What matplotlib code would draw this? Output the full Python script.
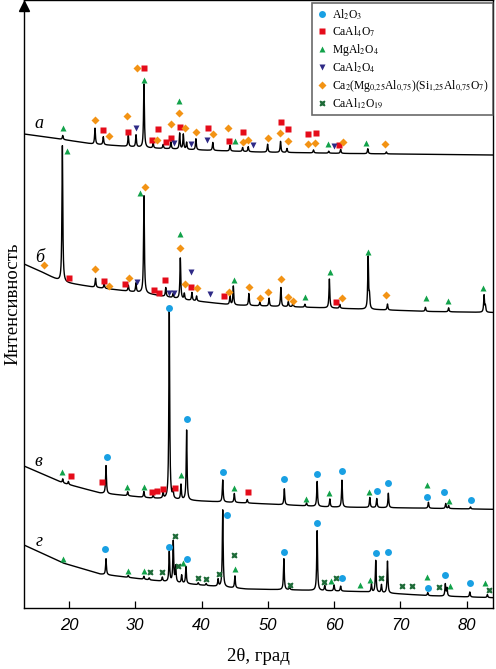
import numpy as np
import matplotlib
matplotlib.use('Agg')
import matplotlib.pyplot as plt
from matplotlib.lines import Line2D

plt.rcParams['mathtext.fontset'] = 'stix'
plt.rcParams['font.family'] = ['Liberation Serif', 'DejaVu Serif']

# ---- данные (2θ, град / интенсивность, усл. ед.) ----
# фон каждой дифрактограммы
bg_a_t = [13.2, 18.6, 23.6, 32.2, 39.8, 48.5, 62.4, 83.9]
bg_a_i = [474, 469, 464, 460, 458, 456, 454.5, 453]
bg_b_t = [13.2, 15.6, 18.9, 23.6, 31.2, 37.8, 44.7, 59.4, 74.5, 83.9]
bg_b_i = [344, 337, 326, 321, 315, 308, 303, 300, 296.5, 295.5]
bg_v_t = [13.2, 19.1, 24.7, 32.2, 39.8, 46.8, 59.4, 71.9, 83.9]
bg_v_i = [142, 125, 115, 110, 107, 105, 101, 100, 98.7]
bg_g_t = [13.2, 19.1, 24.7, 32.2, 39.8, 46.8, 54.3, 64.4, 74.5, 83.9]
bg_g_i = [63, 45, 34, 28, 23, 19, 18, 16.3, 12.3, 10.3]

# пики: положение и высота над фоном
pk_a_t = [19.05, 23.92, 25.17, 28.94, 30.11, 31.31, 32.7, 34.2, 35.38, 36.7, 37.25, 37.75, 39.15,
          41.7, 44.3, 46.2, 47.05, 49.97, 51.93, 52.9, 56.9, 59.2, 61.0, 65.1, 67.9]
pk_a_h = [4, 16, 8, 11, 12, 64, 5, 4, 7, 16, 15, 7, 11, 8, 6, 4, 5, 8, 11, 4, 3, 2, 4, 5, 2]
pk_b_t = [18.99, 24.0, 25.3, 28.95, 30.1, 31.31, 34.6, 35.7, 36.8, 37.4, 38.55, 39.25, 44.3, 44.8,
          47.15, 48.8, 50.2, 51.98, 53.1, 53.8, 55.6, 59.3, 60.87, 65.15, 65.35, 68.07, 73.8, 77.3,
          82.65, 82.85]
pk_b_h = [137, 9, 5, 6, 9, 98, 9, 4, 41, 6, 8, 5, 9, 19, 12, 4, 8, 19, 5, 4, 3, 29, 4, 52, 12, 6,
          4, 4, 17, 6]
pk_v_t = [19.05, 19.9, 25.58, 28.85, 31.3, 32.7, 34.2, 35.13, 35.7, 36.9, 37.75, 43.2, 44.95, 46.9,
          52.5, 55.85, 57.45, 59.37, 61.2, 65.4, 66.45, 68.2, 74.25, 76.86, 77.3, 80.6]
pk_v_h = [4, 3, 28, 4, 6, 3, 6, 188, 8, 15, 70, 22, 9, 3.5, 16, 3, 25, 8, 27, 10, 9, 14.5, 6, 5, 3, 2]
pk_g_t = [25.58, 28.94, 31.3, 32.1, 34.08, 35.13, 35.73, 36.1, 37.0, 37.65, 39.5, 40.7, 42.5, 43.2,
          45.04, 52.43, 53.3, 57.45, 58.6, 60.0, 61.0, 65.65, 66.3, 67.16, 68.07, 74.15, 76.8, 77.05,
          80.5, 83.15]
pk_g_h = [16, 2, 3, 2, 4, 30, 41, 16, 8, 17, 2, 2, 7, 77, 12, 31, 3, 60, 5, 6, 5, 8, 32, 8, 32, 3,
          12, 8, 5, 3]

# метки фаз: (2θ, высота метки)
al2o3_t = [25.69, 35.13, 37.84, 43.27, 52.38, 57.36, 61.13, 66.46, 68.16, 74.10, 76.61, 80.63,
           25.47, 35.04, 37.84, 43.79, 52.47, 57.36, 61.22, 66.30, 68.16, 74.15, 76.71, 80.48]
al2o3_i = [151, 300, 189, 136, 129, 134, 137, 117, 125, 111, 116, 108,
           59, 61, 49, 93, 56, 85, 30, 55, 56, 20, 33, 25]

caal4o7_t = [25.17, 28.94, 31.36, 32.56, 33.38, 34.59, 35.38, 36.79, 41.01, 44.13, 46.29, 51.93,
             53.08, 56.14, 57.21, 60.72,
             19.95, 25.28, 28.49, 32.78, 33.62, 34.43, 38.45, 43.42, 60.23,
             20.30, 24.98, 32.52, 33.32, 34.18, 35.99, 46.94]
caal4o7_i = [478, 476, 540, 468, 479, 466, 470, 481, 480, 467, 476, 486, 479, 474, 475, 463,
             330, 327, 324, 318, 315, 328, 321, 312, 306,
             132, 126, 116, 117, 119, 120, 116]

mgal2o4_t = [19.05, 31.27, 36.64, 44.99, 59.06, 64.90,
             19.74, 30.71, 36.79, 44.93, 55.64, 59.37, 65.10, 73.85, 77.21, 82.49,
             18.94, 28.79, 31.31, 36.94, 44.93, 55.79, 59.26, 65.29, 74.10, 77.36,
             19.05, 28.94, 31.31, 37.19, 44.99, 59.47, 63.89, 65.40, 74.10, 77.57, 82.79]
mgal2o4_i = [480, 528, 507, 467, 464, 465,
             457, 415, 374, 328, 311, 336, 356, 310, 307, 320,
             136, 121, 121, 133, 120, 109, 115, 116, 123, 107,
             49, 37, 37, 45, 39, 27, 23, 28, 31, 22, 25]

caal2o4_t = [30.06, 35.88, 38.36, 40.86, 47.80, 60.02,
             30.30, 35.13, 35.84, 38.40, 41.22]
caal2o4_i = [480, 465, 464, 468, 463, 462,
             326, 315, 315, 336, 314]

gehlen_t = [23.92, 26.08, 28.79, 30.30, 33.27, 35.34, 36.64, 37.45, 39.15, 41.72, 43.98, 46.20,
            47.00, 50.06, 51.78, 53.03, 56.09, 57.06, 61.37, 67.77,
            16.23, 23.97, 26.08, 29.09, 31.51, 36.79, 37.54, 39.26, 44.13, 47.19, 48.81, 50.06,
            51.93, 53.03, 53.79, 61.28, 67.86]
gehlen_i = [488, 472, 492, 540, 468, 484, 495, 480, 476, 474, 480, 466, 468, 470, 475, 467, 464,
            465, 466, 464,
            343, 339, 322, 330, 421, 360, 324, 320, 316, 321, 310, 316, 329, 311, 307, 310, 313]

caal12_t = [32.22, 34.07, 35.94, 36.44, 39.46, 40.66, 42.58, 44.93, 53.33, 58.46, 60.27, 67.16,
            70.27, 71.84, 75.91, 83.39]
caal12_i = [36, 36, 72, 42, 30, 29, 34, 53, 23, 26, 30, 30, 22, 22, 21, 18]

letters = ['а', 'б', 'в', 'г']
letter_t = [14.8, 14.9, 14.8, 14.9]
letter_i = [484, 351, 146, 66]

xticks = [20, 30, 40, 50, 60, 70, 80]

# ---- построение ----
tt = np.linspace(13.2, 84.0, 6000)


def pattern(bg_t, bg_i, pk_t, pk_h, w=0.075):
    y = np.interp(tt, bg_t, bg_i)
    for c, h in zip(pk_t, pk_h):
        y = y + h / (1 + ((tt - c) / w) ** 2)
    return y


fig = plt.figure(figsize=(4.96, 6.69), dpi=100)
ax = fig.add_axes([24 / 496, 61 / 669, 469 / 496, 608 / 669])

for bt, bi, pt, ph in [(bg_a_t, bg_a_i, pk_a_t, pk_a_h), (bg_b_t, bg_b_i, pk_b_t, pk_b_h),
                       (bg_v_t, bg_v_i, pk_v_t, pk_v_h), (bg_g_t, bg_g_i, pk_g_t, pk_g_h)]:
    ax.plot(tt, pattern(bt, bi, pt, ph), color='black', lw=1.0, zorder=2)

ms = 5
c_blue, c_red, c_green, c_navy, c_orange, c_dgreen = '#19A0E3', '#E50C1A', '#12A24A', '#2E2A86', '#F39314', '#1E6B38'
ax.plot(al2o3_t, al2o3_i, 'o', color=c_blue, ms=ms, mec='none', zorder=3)
ax.plot(caal4o7_t, caal4o7_i, 's', color=c_red, ms=ms - 0.5, mec='none', zorder=3)
ax.plot(mgal2o4_t, mgal2o4_i, '^', color=c_green, ms=ms, mec='none', zorder=3)
ax.plot(caal2o4_t, caal2o4_i, 'v', color=c_navy, ms=ms, mec='none', zorder=3)
ax.plot(gehlen_t, gehlen_i, 'D', color=c_orange, ms=ms - 0.6, mec='none', zorder=3)
ax.plot(caal12_t, caal12_i, 'X', color=c_dgreen, ms=ms, mec='none', zorder=3)

for s, t, i in zip(letters, letter_t, letter_i):
    ax.text(t, i, s, fontsize=13, style='italic', ha='left', va='center')

handles = [
    Line2D([], [], ls='none', marker='o', color=c_blue, ms=ms, mec='none'),
    Line2D([], [], ls='none', marker='s', color=c_red, ms=ms - 0.5, mec='none'),
    Line2D([], [], ls='none', marker='^', color=c_green, ms=ms, mec='none'),
    Line2D([], [], ls='none', marker='v', color=c_navy, ms=ms, mec='none'),
    Line2D([], [], ls='none', marker='D', color=c_orange, ms=ms - 0.6, mec='none'),
    Line2D([], [], ls='none', marker='X', color=c_dgreen, ms=ms, mec='none'),
]
labels = [r'Al$_2$O$_3$', r'CaAl$_4$O$_7$', r'MgAl$_2$O$_4$', r'CaAl$_2$O$_4$',
          r'Ca$_2$(Mg$_{0{,}25}$Al$_{0{,}75}$)(Si$_{1{,}25}$Al$_{0{,}75}$O$_7$)', r'CaAl$_{12}$O$_{19}$']
leg = ax.legend(handles, labels, loc='upper right', bbox_to_anchor=(1.0, 0.995), borderaxespad=0,
                fontsize=8.4, frameon=True, fancybox=False, handlelength=1.0, handletextpad=0.4,
                labelspacing=0.24, borderpad=0.35)
leg.get_frame().set_edgecolor('#444444')
leg.get_frame().set_linewidth(1.2)

ax.set_xlim(13.2, 84.0)
ax.set_ylim(0, 608)
ax.set_xticks(xticks)
ax.set_xticklabels([str(v) for v in xticks], fontfamily='Liberation Sans', style='italic', fontsize=12)
ax.set_yticks([])
ax.tick_params(axis='x', direction='in', length=5, width=0.9, pad=7)
for sp in ax.spines.values():
    sp.set_linewidth(1.0)
ax.plot(0, 1 - 6 / 608, marker='^', color='black', ms=7, transform=ax.transAxes, clip_on=False, zorder=5)

ax.set_xlabel('2θ, град', fontsize=13.5, labelpad=11)
ax.set_ylabel('Интенсивность', fontsize=13.5, labelpad=2)

fig.savefig('out.png', dpi=100)
